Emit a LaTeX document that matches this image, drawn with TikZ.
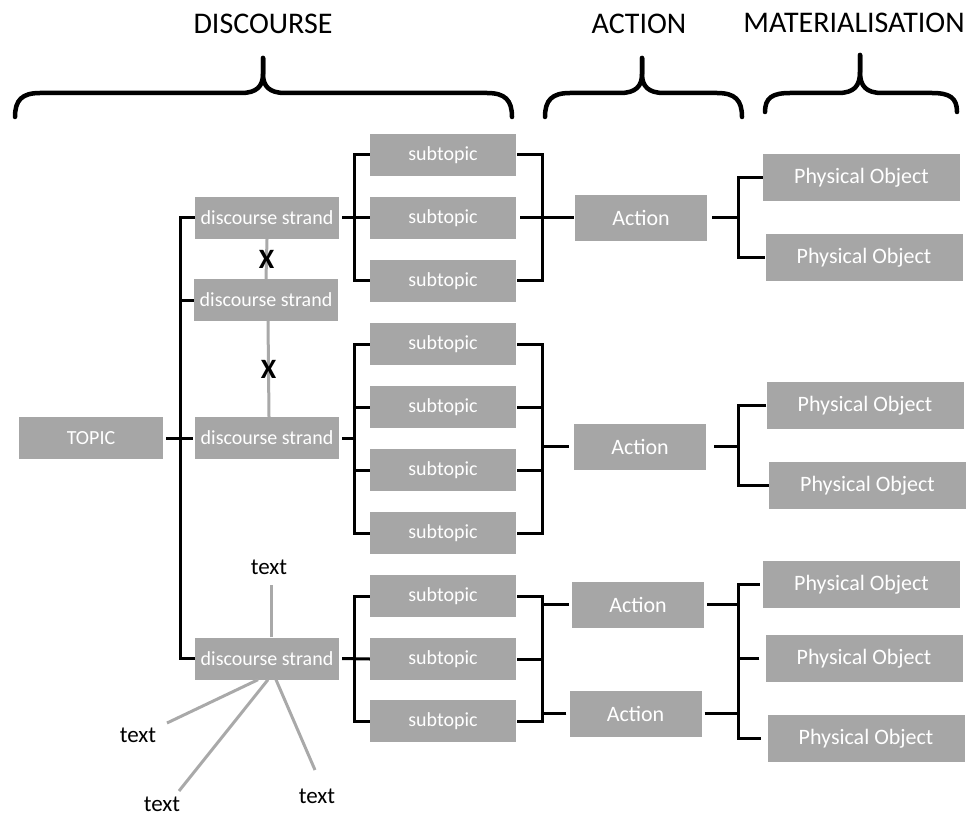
\documentclass[tikz,border=0pt]{standalone}
\usepackage{fontspec}
\setmainfont{Carlito}
\usetikzlibrary{calc}

\definecolor{boxgray}{HTML}{A6A6A6}
\definecolor{linkgray}{HTML}{A9A9A9}

\tikzset{
  box/.style={fill=boxgray, text=white, inner sep=0pt, font=\fontsize{20}{24}\selectfont},
  topicbox/.style={box, minimum width=144pt, minimum height=42pt},
  strandbox/.style={box, minimum width=144pt, minimum height=42pt},
  subbox/.style={box, minimum width=146pt, minimum height=42pt},
  actbox/.style={box, minimum width=132pt, minimum height=46pt, font=\fontsize{22}{26}\selectfont},
  objbox/.style={box, minimum width=197pt, minimum height=47pt, font=\fontsize{22}{26}\selectfont},
  conn/.style={draw=black, line width=3pt},
  grayline/.style={draw=linkgray, line width=3pt},
  heading/.style={font=\fontsize{30}{36}\selectfont, text=black},
  brace/.style={draw=black, line width=4.5pt, line cap=round},
  xmark/.style={font=\fontsize{28}{32}\selectfont\bfseries, text=black, inner sep=0pt},
  note/.style={font=\fontsize{23}{27}\selectfont, text=black, inner sep=0pt}
}

\begin{document}
\begin{tikzpicture}[x=1pt, y=-1pt]
\useasboundingbox (0,0) rectangle (974,818);

% headings
\node[heading] (hdisc) at (263,24) {DISCOURSE};
\node[heading] (hact) at (639,24) {ACTION};
\node[heading] (hmat) at (854,23) {MATERIALISATION};

% braces under the headings
\draw[brace] (15,117) .. controls (15,100) and (22,93) .. (40,93)
  -- (241,93) .. controls (257,93) and (263,86) .. (263,74) -- (263,58);
\draw[brace] (263,58) -- (263,74) .. controls (263,86) and (269,93) .. (285,93)
  -- (487,93) .. controls (505,93) and (512,100) .. (512,117);
\draw[brace] (545,117) .. controls (545,100) and (552,93) .. (570,93)
  -- (620,93) .. controls (636,93) and (642,86) .. (642,74) -- (642,58);
\draw[brace] (642,58) -- (642,74) .. controls (642,86) and (648,93) .. (664,93)
  -- (717,93) .. controls (735,93) and (742,100) .. (742,117);
\draw[brace] (765,112) .. controls (765,98) and (772,93) .. (790,93)
  -- (838,93) .. controls (854,93) and (860,86) .. (860,72) -- (860,55);
\draw[brace] (860,55) -- (860,72) .. controls (860,86) and (866,93) .. (882,93)
  -- (932,93) .. controls (950,93) and (957,98) .. (957,112);

% topic and discourse strands
\node[topicbox] (topic) at (91,438) {TOPIC};
\node[strandbox] (ds1) at (267,218) {discourse strand};
\node[strandbox] (ds2) at (266,300) {discourse strand};
\node[strandbox] (ds3) at (267,438) {discourse strand};
\node[strandbox] (ds4) at (267,658.5) {discourse strand};

% subtopics
\foreach \i/\y in {1/155,2/218,3/281,4/344,5/407,6/470,7/533,8/596,9/659,10/721}
  \node[subbox] (st\i) at (443,\y) {subtopic};

% actions
\node[actbox] (act1) at (641,218) {Action};
\node[actbox] (act2) at (640,446.5) {Action};
\node[actbox] (act3) at (638,604.5) {Action};
\node[actbox] (act4) at (635.5,713.5) {Action};

% physical objects
\node[objbox] (po1) at (861.5,177.5) {Physical Object};
\node[objbox] (po2) at (864,257.5) {Physical Object};
\node[objbox] (po3) at (865,405.5) {Physical Object};
\node[objbox] (po4) at (867.5,485.5) {Physical Object};
\node[objbox] (po5) at (861.5,584.5) {Physical Object};
\node[objbox] (po6) at (864,658.5) {Physical Object};
\node[objbox] (po7) at (866,738.5) {Physical Object};

% bracket spines
\coordinate (spine) at (180,0);
\coordinate (sb) at (354,0);
\coordinate (ab) at (542,0);
\coordinate (pb) at (738,0);

% topic to strands
\draw[conn] (ds1.west) -- (ds1.west -| spine) |- (ds4.west);
\draw[conn] (ds2.west) -- (ds2.west -| spine);
\draw[conn] ([xshift=3pt]topic.east) -- ([xshift=-2pt]ds3.west);

% strands to subtopics
\draw[conn] (st1.west) -- (st1.west -| sb) |- (st3.west);
\draw[conn] ([xshift=3pt]ds1.east) -- (st2.west);
\draw[conn] (st4.west) -- (st4.west -| sb) |- (st7.west);
\draw[conn] (st5.west) -- (st5.west -| sb);
\draw[conn] (st6.west) -- (st6.west -| sb);
\draw[conn] ([xshift=3pt]ds3.east) -- (ds3.east -| sb);
\draw[conn] (st8.west) -- (st8.west -| sb) |- (st10.west);
\draw[conn] ([xshift=3pt]ds4.east) -- (st9.west);

% subtopics to actions
\draw[conn] ([xshift=1pt]st1.east) -- (st1.east -| ab) |- ([xshift=1pt]st3.east);
\draw[conn] ([xshift=4pt]st2.east) -- ([xshift=-1pt]act1.west);
\draw[conn] ([xshift=1pt]st4.east) -- (st4.east -| ab) |- ([xshift=1pt]st7.east);
\draw[conn] ([xshift=1pt]st5.east) -- (st5.east -| ab);
\draw[conn] ([xshift=1pt]st6.east) -- (st6.east -| ab);
\draw[conn] ([xshift=-5pt]act2.west) -- (act2.west -| ab);
\draw[conn] ([xshift=1pt]st8.east) -- (st8.east -| ab) |- ([xshift=1pt]st10.east);
\draw[conn] ([xshift=1pt]st9.east) -- (st9.east -| ab);
\draw[conn] ([xshift=-3pt]act3.west) -- (act3.west -| ab);
\draw[conn] ([xshift=-3pt]act4.west) -- (act4.west -| ab);

% actions to physical objects
\draw[conn] (po1.west) -- (po1.west -| pb) |- (po2.west);
\draw[conn] ([xshift=5pt]act1.east) -- (act1.east -| pb);
\draw[conn] (po3.west) -- (po3.west -| pb) |- (po4.west);
\draw[conn] ([xshift=8pt]act2.east) -- (act2.east -| pb);
\draw[conn] ([xshift=-3pt]po5.west) -- (po5.west -| pb) |- ([xshift=-6pt]po7.west);
\draw[conn] ([xshift=-6pt]po6.west) -- (po6.west -| pb);
\draw[conn] ([xshift=3pt]act3.east) -- (act3.east -| pb);
\draw[conn] ([xshift=3pt]act4.east) -- (act4.east -| pb);

% separations between strands
\draw[grayline] (ds1.south) -- (ds2.north) node[xmark, midway] (x1) {X};
\draw[grayline] ([xshift=2pt]ds2.south) -- ([xshift=2pt]ds3.north) node[xmark, pos=0.5] (x2) {X};

% texts linked to the last strand
\node[note] (t1) at (269,567) {text};
\node[note] (t2) at (138,735) {text};
\node[note] (t3) at (162,804) {text};
\node[note] (t4) at (317,796) {text};
\coordinate (e1) at (271,585);
\coordinate (e2) at (167,723);
\coordinate (e3) at (179,791);
\coordinate (e4) at (315,770);
\draw[grayline] ([xshift=4pt]ds4.north) -- (e1);
\draw[grayline] ([xshift=-9pt]ds4.south) -- (e2);
\draw[grayline] ([xshift=1pt]ds4.south) -- (e3);
\draw[grayline] ([xshift=9pt]ds4.south) -- (e4);
\end{tikzpicture}
\end{document}
